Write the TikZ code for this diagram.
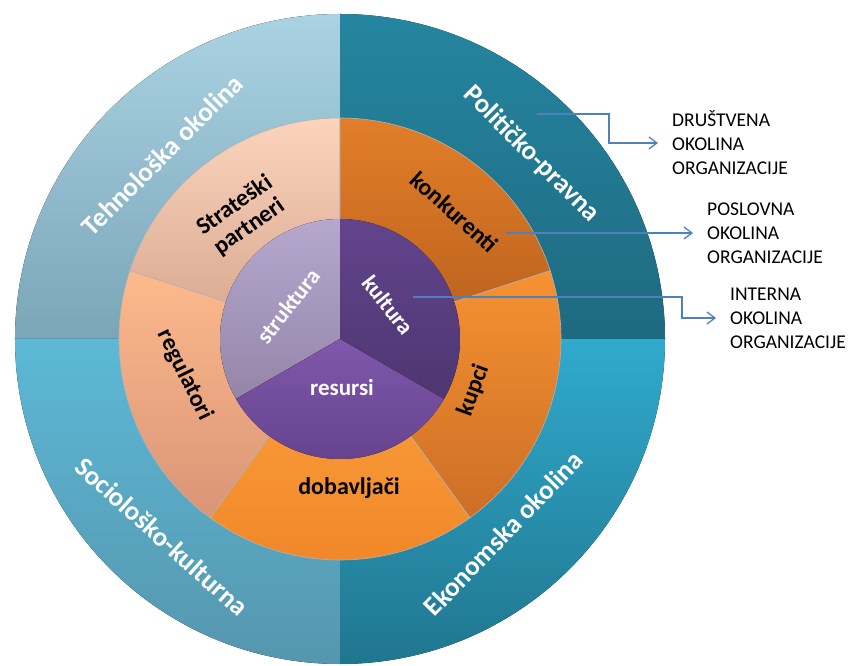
\documentclass[tikz,border=0pt]{standalone}
\usepackage{fontspec}
\setmainfont{Carlito}
\usepackage{tikz}
\usetikzlibrary{arrows.meta,positioning}
\definecolor{tehnoTop}{RGB}{170,210,226}
\definecolor{tehnoBot}{RGB}{122,166,184}
\definecolor{politTop}{RGB}{37,133,160}
\definecolor{politBot}{RGB}{30,106,128}
\definecolor{socioTop}{RGB}{92,185,214}
\definecolor{socioBot}{RGB}{86,150,174}
\definecolor{ekonTop}{RGB}{48,170,205}
\definecolor{ekonBot}{RGB}{32,118,143}
\definecolor{stratTop}{RGB}{251,212,188}
\definecolor{stratBot}{RGB}{214,164,140}
\definecolor{konkTop}{RGB}{226,126,40}
\definecolor{konkBot}{RGB}{184,96,30}
\definecolor{kupTop}{RGB}{246,146,50}
\definecolor{kupBot}{RGB}{204,110,38}
\definecolor{dobTop}{RGB}{252,162,62}
\definecolor{dobBot}{RGB}{240,134,40}
\definecolor{regTop}{RGB}{252,186,140}
\definecolor{regBot}{RGB}{218,148,118}
\definecolor{strukTop}{RGB}{182,167,207}
\definecolor{strukBot}{RGB}{148,133,168}
\definecolor{kultTop}{RGB}{98,68,142}
\definecolor{kultBot}{RGB}{78,54,112}
\definecolor{resTop}{RGB}{128,88,172}
\definecolor{resBot}{RGB}{98,64,138}
\definecolor{linkBlue}{RGB}{79,129,189}

\begin{document}
\begin{tikzpicture}[x=1pt,y=1pt,
      outer/.style = {font=\fontsize{27}{30}\selectfont\bfseries, text=white},
      mid/.style   = {font=\fontsize{24}{26}\selectfont\bfseries, text=black, align=center},
      core/.style  = {font=\fontsize{23}{26}\selectfont\bfseries, text=white},
      note/.style  = {font=\fontsize{19.5}{24}\selectfont, align=left, anchor=west, inner sep=0pt},
      link/.style  = {-{Straight Barb[length=8pt,width=12pt]}, color=linkBlue,
          line width=1.3pt, shorten >=14pt},
      seam/.style  = {draw=black!30, line width=0.6pt},
    ]
    \useasboundingbox (-340,-327) rectangle (508,339);

    % ── Vanjski prsten ───────────────────────────────────────────
    \fill[top color=tehnoTop,bottom color=tehnoBot] (0,0) -- (90:325) arc[start angle=90,end angle=180,radius=325] -- cycle;
    \fill[top color=politTop,bottom color=politBot] (0,0) -- (0:325) arc[start angle=0,end angle=90,radius=325] -- cycle;
    \fill[top color=socioTop,bottom color=socioBot] (0,0) -- (180:325) arc[start angle=180,end angle=270,radius=325] -- cycle;
    \fill[top color=ekonTop,bottom color=ekonBot] (0,0) -- (270:325) arc[start angle=270,end angle=360,radius=325] -- cycle;

    % ── Poslovna okolina ─────────────────────────────────────────
    \path[seam,top color=stratTop,bottom color=stratBot] (0,0) -- (90:221) arc[start angle=90,end angle=162,radius=221] -- cycle;
    \path[seam,top color=konkTop,bottom color=konkBot] (0,0) -- (18:221) arc[start angle=18,end angle=90,radius=221] -- cycle;
    \path[seam,top color=kupTop,bottom color=kupBot] (0,0) -- (-54:221) arc[start angle=-54,end angle=18,radius=221] -- cycle;
    \path[seam,top color=dobTop,bottom color=dobBot] (0,0) -- (-126:221) arc[start angle=-126,end angle=-54,radius=221] -- cycle;
    \path[seam,top color=regTop,bottom color=regBot] (0,0) -- (162:221) arc[start angle=162,end angle=234,radius=221] -- cycle;

    % ── Interna okolina ──────────────────────────────────────────
    \fill[top color=strukTop,bottom color=strukBot] (0,0) -- (90:120) arc[start angle=90,end angle=210,radius=120] -- cycle;
    \fill[top color=kultTop,bottom color=kultBot] (0,0) -- (-30:120) arc[start angle=-30,end angle=90,radius=120] -- cycle;
    \fill[top color=resTop,bottom color=resBot] (0,0) -- (210:120) arc[start angle=210,end angle=330,radius=120] -- cycle;

    % ── Natpisi ──────────────────────────────────────────────────
    \node[outer,rotate=45]  (tehno) at (134:256) {Tehnološka okolina};
    \node[outer,rotate=-45] (polit) at (44:266)  {Političko-pravna};
    \node[outer,rotate=-42] (socio) at (228:266) {Sociološko-kulturna};
    \node[outer,rotate=46]  (ekon)  at (-50:254) {Ekonomska okolina};

    \node[mid,rotate=35]  (strat) at (128.5:157) {Strateški\\partneri};
    \node[mid,rotate=-42] (konk)  at (48:171)    {konkurenti};
    \node[mid,rotate=70]  (kupci) at (-21:143)   {kupci};
    \node[mid]            (dobav) at (9,-149)    {dobavljači};
    \node[mid,rotate=-64] (regul) at (-155,-36)  {regulatori};

    \node[core,rotate=52]  (struk) at (-52,33) {struktura};
    \node[core,rotate=-52] (kult)  at (48,34)  {kultura};
    \node[core]            (res)   at (2,-49)  {resursi};

    % ── Legenda ──────────────────────────────────────────────────
    \node[note] (drustvena) at (332,196) {DRUŠTVENA\\OKOLINA\\ORGANIZACIJE};
    \node[note] (poslovna)  at (367,106) {POSLOVNA\\OKOLINA\\ORGANIZACIJE};
    \node[note] (interna)   at (390,21)  {INTERNA\\OKOLINA\\ORGANIZACIJE};

    \coordinate (drus) at (197,225);
    \coordinate (posl) at (166,106);
    \coordinate (intr) at (73,42);

    \draw[link] (drus) -- ++(72,0) |- (drustvena.west);
    \draw[link] (posl) -- (poslovna.west);
    \draw[link] (intr) -- ++(269,0) |- (interna.west);

  \end{tikzpicture}
\end{document}
